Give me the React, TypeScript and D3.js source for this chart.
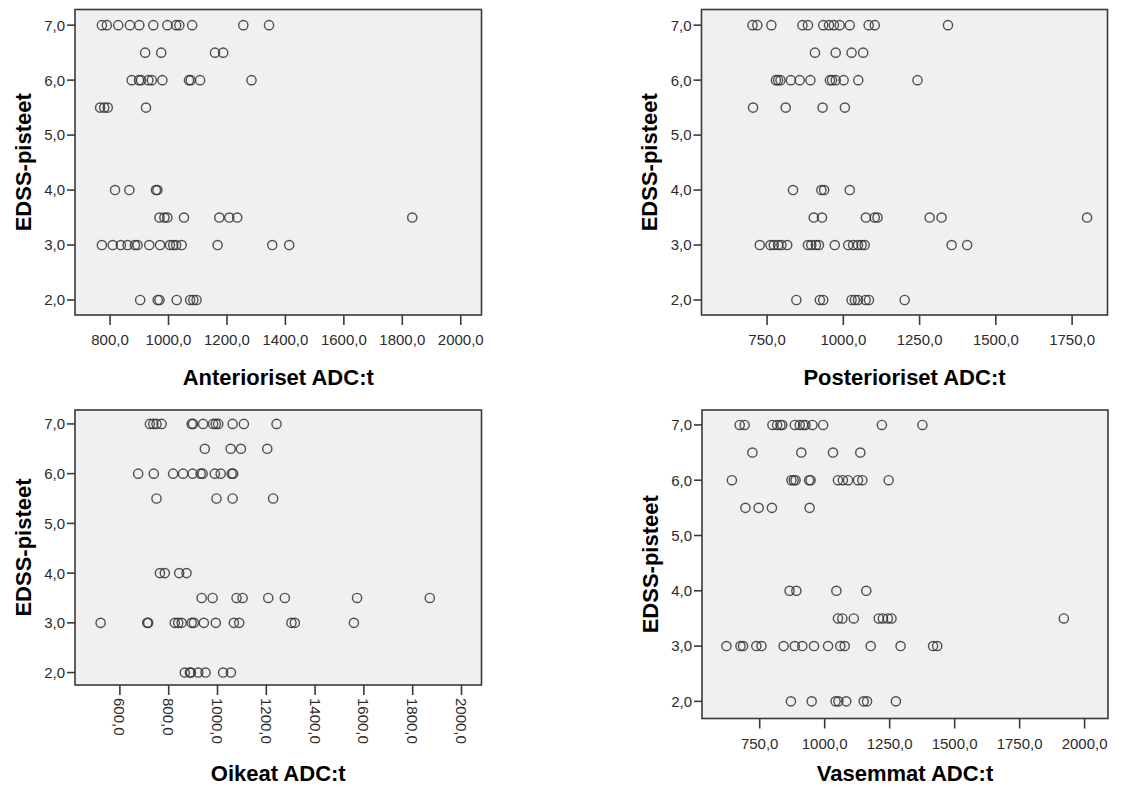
import React from "react";
import * as d3 from "d3";

// EDSS score levels present in the data (y values), top to bottom
const edssLevels = [7.0, 6.5, 6.0, 5.5, 4.0, 3.5, 3.0, 2.0];
const edssTicks = [2, 3, 4, 5, 6, 7];

// ADC values for each EDSS level, in the same order as edssLevels
const anteriorAdc = [
  [772, 789, 828, 868, 900, 948, 996, 1026, 1037, 1081, 1256, 1344],
  [920, 975, 1159, 1187],
  [874, 899, 906, 931, 943, 979, 1070, 1076, 1108, 1284],
  [766, 780, 792, 923],
  [817, 866, 957, 962],
  [969, 986, 996, 1053, 1174, 1208, 1235, 1834],
  [772, 809, 837, 860, 885, 894, 934, 971, 1005, 1016, 1026, 1045, 1168, 1355, 1413],
  [903, 963, 969, 1028, 1074, 1085, 1096],
];

const posteriorAdc = [
  [702, 718, 764, 866, 884, 934, 953, 969, 988, 1021, 1083, 1103, 1343],
  [907, 975, 1027, 1065],
  [779, 786, 794, 828, 857, 892, 956, 963, 975, 1001, 1049, 1243],
  [704, 811, 932, 1005],
  [835, 928, 937, 1021],
  [903, 930, 1074, 1103, 1112, 1283, 1322, 1799],
  [726, 761, 772, 786, 797, 816, 884, 895, 910, 920, 972, 1016, 1032, 1048, 1060, 1070, 1355, 1406],
  [846, 923, 934, 1027, 1038, 1048, 1073, 1084, 1201],
];

const rightAdc = [
  [723, 737, 750, 771, 894, 900, 941, 982, 993, 1003, 1062, 1108, 1242],
  [948, 1054, 1096, 1204],
  [675, 739, 818, 859, 898, 931, 939, 989, 1013, 1058, 1064],
  [750, 996, 1062, 1228],
  [764, 784, 843, 873],
  [935, 980, 1078, 1103, 1208, 1276, 1572, 1870],
  [521, 712, 716, 825, 839, 853, 894, 903, 944, 993, 1067, 1089, 1303, 1317, 1559],
  [866, 887, 891, 921, 951, 1023, 1055],
];

const leftAdc = [
  [673, 692, 799, 817, 830, 837, 885, 904, 917, 926, 953, 994, 1220, 1376],
  [722, 910, 1032, 1137],
  [643, 872, 881, 888, 940, 946, 1051, 1070, 1090, 1128, 1145, 1246],
  [695, 746, 797, 942],
  [865, 891, 1045, 1160],
  [1051, 1068, 1112, 1208, 1224, 1243, 1257, 1920],
  [622, 676, 686, 737, 757, 842, 885, 914, 959, 1013, 1060, 1077, 1177, 1292, 1417, 1433],
  [870, 950, 1042, 1053, 1083, 1150, 1163, 1274],
];

// Tick values for the x axes
const anteriorTicks = [800, 1000, 1200, 1400, 1600, 1800, 2000];
const posteriorTicks = [750, 1000, 1250, 1500, 1750];
const rightTicks = [600, 800, 1000, 1200, 1400, 1600, 1800, 2000];
const leftTicks = [750, 1000, 1250, 1500, 1750, 2000];

const yTitle = "EDSS-pisteet";

const fmt = (v: number) => d3.format(".1f")(v).replace(".", ",");

const FONT = "'Liberation Sans', Arial, sans-serif";

type Frame = { left: number; top: number; right: number; bottom: number };

type PanelProps = {
  frame: Frame;
  xDomain: [number, number];
  yDomain: [number, number];
  xTicks: number[];
  adc: number[][];
  xTitle: string;
  xTitleY: number;
  rotateTicks?: boolean;
};

function Panel({ frame, xDomain, yDomain, xTicks, adc, xTitle, xTitleY, rotateTicks }: PanelProps) {
  const x = d3.scaleLinear().domain(xDomain).range([frame.left, frame.right]);
  const y = d3.scaleLinear().domain(yDomain).range([frame.bottom, frame.top]);
  const points: { v: number; e: number }[] = [];
  edssLevels.forEach((e, i) => adc[i].forEach((v) => points.push({ v, e })));
  const cy = (frame.top + frame.bottom) / 2;
  const cx = (frame.left + frame.right) / 2;
  const tickLen = 8;
  const xTickLen = 10;
  return (
    <g>
      <rect
        x={frame.left}
        y={frame.top}
        width={frame.right - frame.left}
        height={frame.bottom - frame.top}
        fill="#f0f0f0"
        stroke="#3a3a3a"
        strokeWidth={1.6}
      />
      {/* y axis */}
      {edssTicks.map((t) => (
        <g key={"y" + t}>
          <line x1={frame.left - tickLen} x2={frame.left} y1={y(t)} y2={y(t)} stroke="#3a3a3a" strokeWidth={1.6} />
          <text
            x={frame.left - tickLen - 2}
            y={y(t)}
            dy="0.36em"
            textAnchor="end"
            fontFamily={FONT}
            fontSize={15}
            fill="#2b2b2b"
          >
            {fmt(t)}
          </text>
        </g>
      ))}
      {/* x axis */}
      {xTicks.map((t) => (
        <g key={"x" + t}>
          <line x1={x(t)} x2={x(t)} y1={frame.bottom} y2={frame.bottom + xTickLen} stroke="#3a3a3a" strokeWidth={1.6} />
          {rotateTicks ? (
            <text
              transform={`translate(${x(t)},${frame.bottom + xTickLen + 3}) rotate(90)`}
              dy="0.36em"
              textAnchor="start"
              fontFamily={FONT}
              fontSize={15}
              fill="#2b2b2b"
            >
              {fmt(t)}
            </text>
          ) : (
            <text
              x={x(t)}
              y={frame.bottom + 30}
              textAnchor="middle"
              fontFamily={FONT}
              fontSize={15}
              fill="#2b2b2b"
            >
              {fmt(t)}
            </text>
          )}
        </g>
      ))}
      {/* markers */}
      {points.map((p, i) => (
        <circle key={i} cx={x(p.v)} cy={y(p.e)} r={4.6} fill="none" stroke="#333" strokeWidth={1.4} strokeOpacity={0.85} />
      ))}
      {/* titles */}
      <text
        transform={`translate(${frame.left - 44.5},${cy}) rotate(-90)`}
        textAnchor="middle"
        fontFamily={FONT}
        fontWeight="bold"
        fontSize={22}
        fill="#000"
      >
        {yTitle}
      </text>
      <text x={cx} y={xTitleY} textAnchor="middle" fontFamily={FONT} fontWeight="bold" fontSize={22} fill="#000">
        {xTitle}
      </text>
    </g>
  );
}

export default function App() {
  return (
    <svg
      width={1125}
      height={788}
      style={{ position: "absolute", left: 0, top: 0, background: "#fff" }}
    >
      <rect width={1125} height={788} fill="#fff" />
      <Panel
        frame={{ left: 75, top: 9.5, right: 481.5, bottom: 315 }}
        xDomain={[680, 2071]}
        yDomain={[1.727, 7.285]}
        xTicks={anteriorTicks}
        adc={anteriorAdc}
        xTitle="Anterioriset ADC:t"
        xTitleY={385}
      />
      <Panel
        frame={{ left: 701.5, top: 9.5, right: 1107.5, bottom: 315 }}
        xDomain={[535, 1866]}
        yDomain={[1.727, 7.285]}
        xTicks={posteriorTicks}
        adc={posteriorAdc}
        xTitle="Posterioriset ADC:t"
        xTitleY={385}
      />
      <Panel
        frame={{ left: 75, top: 410, right: 481.5, bottom: 685 }}
        xDomain={[416, 2082]}
        yDomain={[1.75, 7.28]}
        xTicks={rightTicks}
        adc={rightAdc}
        xTitle="Oikeat ADC:t"
        xTitleY={781}
        rotateTicks
      />
      <Panel
        frame={{ left: 702, top: 410, right: 1108, bottom: 718.5 }}
        xDomain={[528, 2090]}
        yDomain={[1.69, 7.27]}
        xTicks={leftTicks}
        adc={leftAdc}
        xTitle="Vasemmat ADC:t"
        xTitleY={781}
      />
    </svg>
  );
}
